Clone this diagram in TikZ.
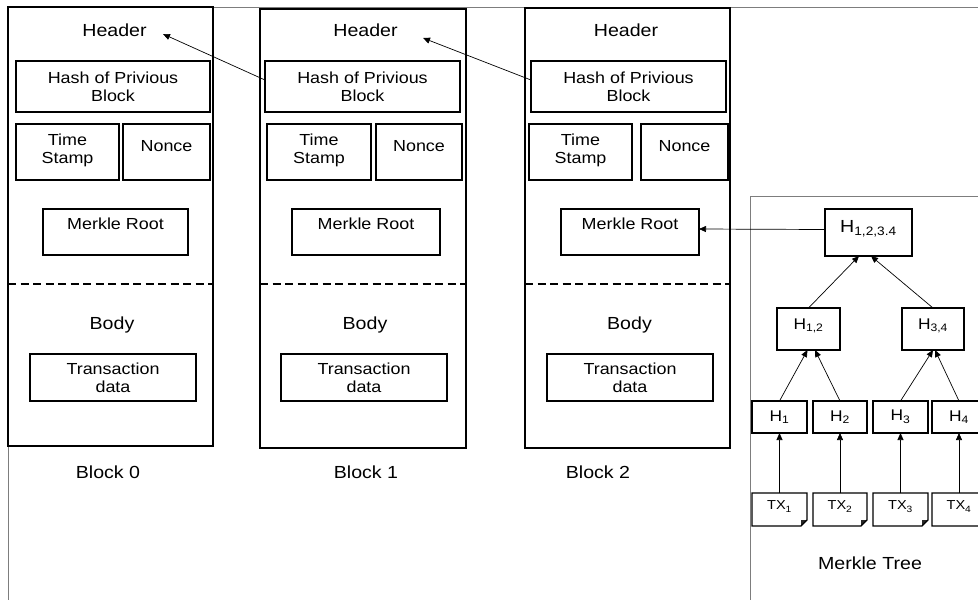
\documentclass[tikz,border=0pt]{standalone}
\usepackage{fontspec}
\setmainfont[FakeStretch=1.12]{Liberation Sans}
\usetikzlibrary{arrows.meta,fit}
\definecolor{framegray}{RGB}{125,125,125}
\definecolor{foldgray}{RGB}{40,40,40}
\begin{document}
\begin{tikzpicture}[x=1pt,y=-1pt,
  every node/.style={inner sep=0pt,outer sep=0pt},
  frameline/.style={draw=framegray,line width=1pt},
  blockbox/.style={draw,line width=1.4pt},
  fieldbox/.style={draw,line width=1.2pt},
  hashbox/.style={draw,line width=1.3pt},
  caption/.style={font=\fontsize{17.5}{20}\selectfont},
  fieldtext/.style={font=\fontsize{16}{18}\selectfont,align=center},
  hashtext/.style={font=\fontsize{#1}{18}\selectfont},
  leaftext/.style={font=\fontsize{13}{15}\selectfont},
  link/.style={-{Triangle[length=7pt,width=6pt]},line width=0.7pt},
  divider/.style={line width=1.2pt,dash pattern=on 8pt off 4.5pt},
]
\clip (0,0) rectangle (978,600);
\fill[white] (0,0) rectangle (978,600);

% outer frame
\draw[frameline] (8,600) -- (8,7.5) -- (978,7.5);

% ---------- Block 0 ----------
\node[blockbox,fit={(8,7) (213,446)}] (blk0) {};
\node[caption] (hd0) at (114.5,30.5) {Header};
\node[fieldbox,fit={(16,61) (210,112)}] (prev0) {};
\node[fieldtext] (prev0t) at (prev0) {Hash of Privious\\Block};
\node[fieldbox,fit={(16,124) (119,180)}] (ts0) {};
\node[fieldtext,yshift=1.5pt] (ts0t) at (ts0) {Time\\Stamp};
\node[fieldbox,fit={(123,124) (210,180)}] (nc0) {};
\node[fieldtext,yshift=5.5pt] (nc0t) at (nc0) {Nonce};
\node[fieldbox,fit={(43,209) (188,255)}] (mr0) {};
\node[fieldtext,yshift=8pt] (mr0t) at (mr0) {Merkle Root};
\draw[divider] (8,284) -- (213,284);
\node[caption] (bd0) at (112,325) {Body};
\node[fieldbox,fit={(30,354) (196,401)}] (data0) {};
\node[fieldtext] (data0t) at (data0) {Transaction\\data};
\node[caption] (nm0) at (108,472.5) {Block 0};

% ---------- Block 1 ----------
\node[blockbox,fit={(260,9) (466,448)}] (blk1) {};
\node[caption] (hd1) at (365.5,30.5) {Header};
\node[fieldbox,fit={(265,61) (460,112)}] (prev1) {};
\node[fieldtext] (prev1t) at (prev1) {Hash of Privious\\Block};
\node[fieldbox,fit={(267,124) (371,180)}] (ts1) {};
\node[fieldtext,yshift=1.5pt] (ts1t) at (ts1) {Time\\Stamp};
\node[fieldbox,fit={(376,124) (462,180)}] (nc1) {};
\node[fieldtext,yshift=5.5pt] (nc1t) at (nc1) {Nonce};
\node[fieldbox,fit={(292,209) (440,255)}] (mr1) {};
\node[fieldtext,yshift=8pt] (mr1t) at (mr1) {Merkle Root};
\draw[divider] (260,284) -- (466,284);
\node[caption] (bd1) at (365,325) {Body};
\node[fieldbox,fit={(281,354) (447,401)}] (data1) {};
\node[fieldtext] (data1t) at (data1) {Transaction\\data};
\node[caption] (nm1) at (366,472.5) {Block 1};

% ---------- Block 2 ----------
\node[blockbox,fit={(525,8) (730,448)}] (blk2) {};
\node[caption] (hd2) at (626,30.5) {Header};
\node[fieldbox,fit={(531,61) (726,112)}] (prev2) {};
\node[fieldtext] (prev2t) at (prev2) {Hash of Privious\\Block};
\node[fieldbox,fit={(529,124) (632,180)}] (ts2) {};
\node[fieldtext,yshift=1.5pt] (ts2t) at (ts2) {Time\\Stamp};
\node[fieldbox,fit={(641,124) (728,180)}] (nc2) {};
\node[fieldtext,yshift=5.5pt] (nc2t) at (nc2) {Nonce};
\node[fieldbox,fit={(561,209) (699,255)}] (mr2) {};
\node[fieldtext,yshift=8pt] (mr2t) at (mr2) {Merkle Root};
\draw[divider] (525,284) -- (730,284);
\node[caption] (bd2) at (629.5,325) {Body};
\node[fieldbox,fit={(547,354) (713,401)}] (data2) {};
\node[fieldtext] (data2t) at (data2) {Transaction\\data};
\node[caption] (nm2) at (598,472.5) {Block 2};

% chain links between blocks
\coordinate (tip0) at (163,34);
\coordinate (tip1) at (423,38);
\draw[link] ([yshift=6.5pt]prev1.west) -- (tip0);
\draw[link] ([yshift=6.5pt]prev2.west) -- (tip1);

% ---------- Merkle tree ----------
\draw[frameline] (750,600) -- (750,196) -- (978,196);
\node[hashbox,fit={(825,209) (912,256)}] (root) {};
\node[hashtext=17.5,yshift=4pt] (roott) at (root) {H\textsubscript{1,2,3.4}};
\node[hashbox,fit={(777,308) (840,350)}] (h12) {};
\node[hashtext=15.5,yshift=3pt] (h12t) at (h12) {H\textsubscript{1,2}};
\node[hashbox,fit={(902,308) (964,350)}] (h34) {};
\node[hashtext=15.5,yshift=3pt] (h34t) at (h34) {H\textsubscript{3,4}};

\foreach \i/\l/\r in {1/752/807,2/813/867,3/873/928,4/932/986}{
  \node[hashbox,fit={(\l,401) (\r,433)}] (h\i) {};
  \node[hashtext=15.5] (hl\i) at (h\i) {H\textsubscript{\i}};
  \node[fit={(\l,493) (\r,526)}] (leaf\i) {};
  \fill[foldgray] ([xshift=-6pt]leaf\i.south east) -- ([yshift=6pt]leaf\i.south east)
        -- ([xshift=-6pt,yshift=6pt]leaf\i.south east) -- cycle;
  \draw[hashbox] (leaf\i.north west) -- (leaf\i.north east)
        -- ([yshift=6pt]leaf\i.south east) -- ([xshift=-6pt]leaf\i.south east)
        -- (leaf\i.south west) -- cycle;
  \node[leaftext,yshift=3pt] (ll\i) at (leaf\i) {TX\textsubscript{\i}};
  \draw[link] (leaf\i.north) -- (h\i.south);
}

\draw[link] (h1.north) -- ([xshift=-1pt]h12.south);
\draw[link] (h2.north) -- ([xshift=6.5pt]h12.south);
\draw[link] (h3.north) -- (h34.south);
\draw[link] (h4.north) -- ([xshift=2pt]h34.south);
\draw[link] (h12.north) -- ([xshift=-9.5pt]root.south);
\draw[link] (h34.north) -- ([xshift=2.5pt]root.south);
\draw[link] ([yshift=3pt]root.west) -- ([yshift=3pt]mr2.east);

\node[caption] (mtree) at (870,563.5) {Merkle Tree};
\end{tikzpicture}
\end{document}
